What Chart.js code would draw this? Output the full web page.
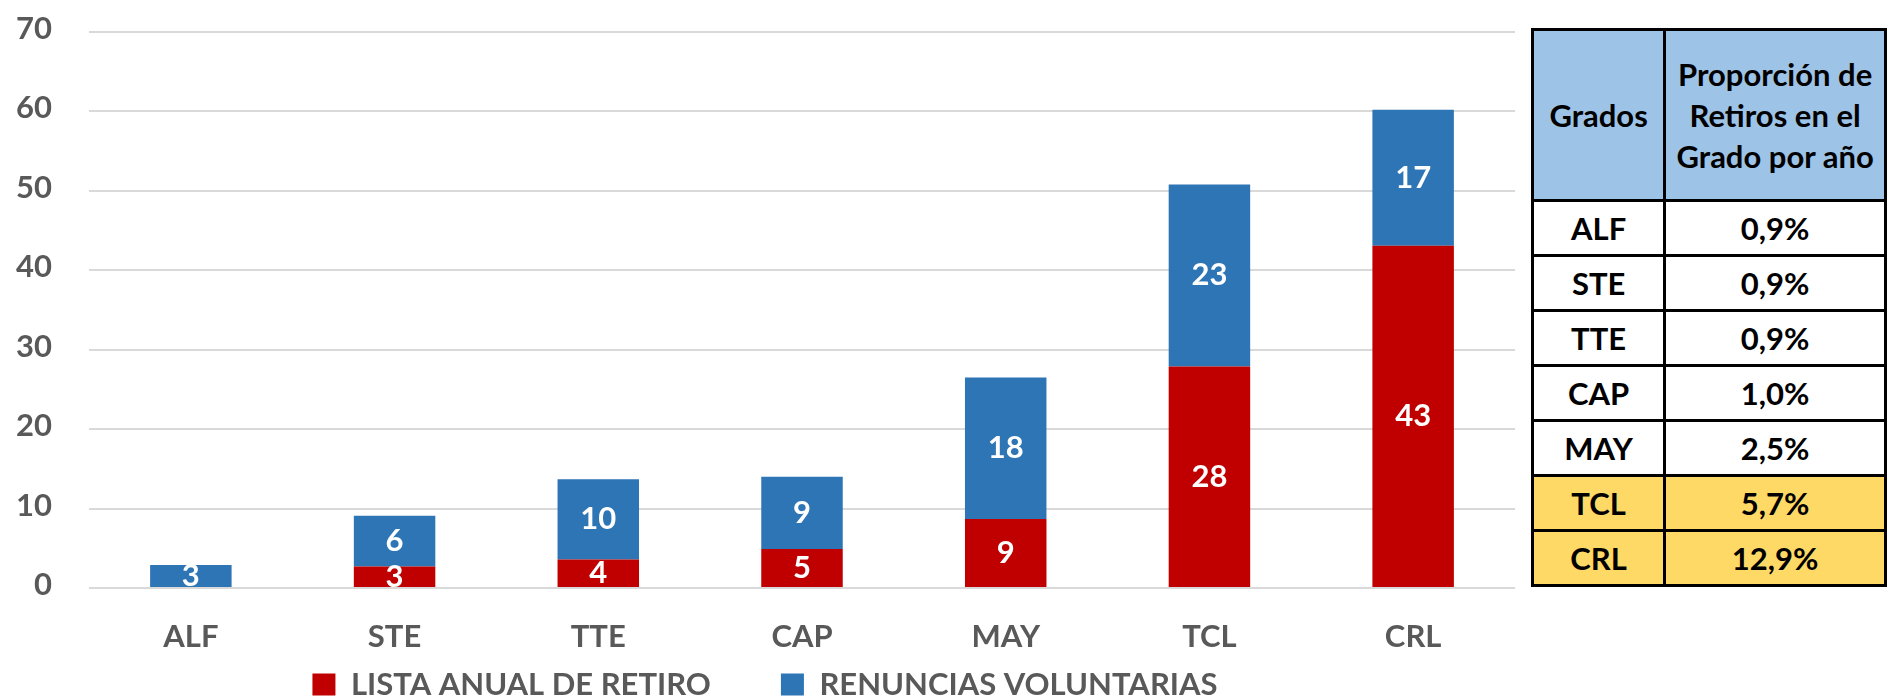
<!DOCTYPE html>
<html lang="es">
<head>
    <meta charset="UTF-8">
    <title>Retiros por grado</title>
    <script src="https://cdn.jsdelivr.net/npm/chart.js"></script>
    <style>
        html, body { margin: 0; padding: 0; background: #fff; overflow: hidden; }
        .lienzo { position: relative; width: 1887px; height: 697px; overflow: hidden; }
        .grafico { position: absolute; left: 15px; top: 0; width: 1516px; height: 710px; }
        .tabla {
            position: absolute; left: 1531px; top: 28px;
            border-collapse: collapse; table-layout: fixed;
            font-family: Lato, "Noto Sans", sans-serif; font-weight: bold; font-size: 31px; color: #000;
        }
        .tabla td, .tabla th { border: 3px solid #000; text-align: center; padding: 0; }
        .tabla th { background: #9DC3E6; height: 168px; line-height: 41px; font-weight: bold; white-space: nowrap; }
        .tabla td { height: 52px; }
        .tabla tr.destacado td { background: #FFD966; }
    </style>
</head>
<body>
<div class="lienzo">
    <div class="grafico"><canvas id="retirosChart"></canvas></div>
    <table class="tabla" id="tablaProporcion">
        <colgroup><col style="width:140px"><col style="width:226px"></colgroup>
        <thead>
            <tr><th>Grados</th><th>Proporción de<br>Retiros en el<br>Grado por año</th></tr>
        </thead>
        <tbody></tbody>
    </table>
</div>

<script>
    // categorias y valores
    const grados = ['ALF', 'STE', 'TTE', 'CAP', 'MAY', 'TCL', 'CRL'];
    const listaAnualRetiro = [0, 2.7, 3.6, 4.9, 8.7, 27.9, 43.1];
    const renunciasVoluntarias = [2.9, 6.4, 10.1, 9.1, 17.8, 22.9, 17.1];
    const yMax = 70;
    const yPaso = 10;

    // tabla de la derecha
    const proporcionRetiros = ['0,9%', '0,9%', '0,9%', '1,0%', '2,5%', '5,7%', '12,9%'];
    const gradosDestacados = ['TCL', 'CRL'];

    const tbody = document.querySelector('#tablaProporcion tbody');
    grados.forEach((g, i) => {
        const tr = document.createElement('tr');
        if (gradosDestacados.includes(g)) tr.className = 'destacado';
        tr.innerHTML = '<td>' + g + '</td><td>' + proporcionRetiros[i] + '</td>';
        tbody.appendChild(tr);
    });

    const fuente = { family: 'Lato, "Noto Sans", sans-serif', size: 31, weight: 'bold' };
    const gris = '#595959';

    // etiquetas blancas dentro de cada segmento
    const etiquetasBarras = {
        id: 'etiquetasBarras',
        afterDatasetsDraw(chart) {
            const ctx = chart.ctx;
            ctx.save();
            ctx.fillStyle = '#fff';
            ctx.font = 'bold 31px Lato, "Noto Sans", sans-serif';
            ctx.textAlign = 'center';
            ctx.textBaseline = 'middle';
            chart.data.datasets.forEach((ds, di) => {
                const meta = chart.getDatasetMeta(di);
                meta.data.forEach((bar, i) => {
                    const v = ds.data[i];
                    if (!v) return;
                    ctx.fillText(String(Math.round(v)), bar.x, (bar.y + bar.base) / 2);
                });
            });
            ctx.restore();
        }
    };

    new Chart(document.getElementById('retirosChart'), {
        type: 'bar',
        data: {
            labels: grados,
            datasets: [
                { label: 'LISTA ANUAL DE RETIRO', data: listaAnualRetiro, backgroundColor: '#C00000' },
                { label: 'RENUNCIAS VOLUNTARIAS', data: renunciasVoluntarias, backgroundColor: '#2E75B6' }
            ]
        },
        options: {
            responsive: true,
            maintainAspectRatio: false,
            animation: false,
            datasets: { bar: { barPercentage: 0.4, categoryPercentage: 1.0, borderWidth: 0 } },
            layout: { padding: { left: 0, right: 16, top: 32, bottom: 0 } },
            plugins: {
                tooltip: { enabled: false },
                legend: {
                    position: 'bottom',
                    labels: { font: fuente, color: gris, boxWidth: 23, boxHeight: 22, padding: 70 }
                }
            },
            scales: {
                x: {
                    stacked: true,
                    grid: { display: false, drawTicks: false },
                    border: { display: false },
                    // mirror evita el recorte de las etiquetas; el padding negativo las baja
                    ticks: { font: fuente, color: gris, mirror: true, padding: -68 },
                    afterFit(scale) { scale.height = 11; }
                },
                y: {
                    stacked: true,
                    min: 0,
                    max: yMax,
                    grid: { color: '#D9D9D9', lineWidth: 2, drawTicks: false },
                    border: { display: false },
                    ticks: { stepSize: yPaso, font: fuente, color: gris, padding: 37, labelOffset: -3 },
                    afterFit(scale) {
                        scale.width = 74;
                        // el padding de las etiquetas no debe empujar el area del grafico
                        scale.paddingTop = 0;
                        scale.paddingBottom = 0;
                    }
                }
            }
        },
        plugins: [etiquetasBarras]
    });
</script>
</body>
</html>
